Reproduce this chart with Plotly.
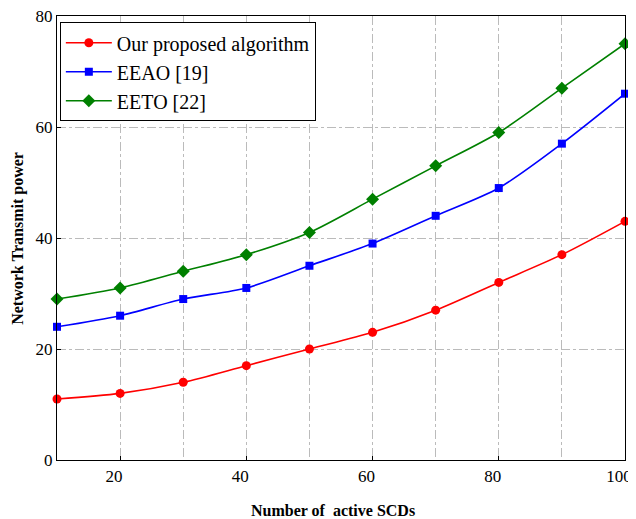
import plotly.graph_objects as go

x_vals = [10, 20, 30, 40, 50, 60, 70, 80, 90, 100]
ours = [11, 12, 14, 17, 20, 23, 27, 32, 37, 43]
eeao = [24, 26, 29, 31, 35, 39, 44, 49, 57, 66]
eeto = [29, 31, 34, 37, 41, 47, 53, 59, 67, 75]
names = ["Our proposed algorithm", "EEAO [19]", "EETO [22]"]
x_ticks = [20, 40, 60, 80, 100]
y_ticks = [0, 20, 40, 60, 80]
x_title = "Number of  active SCDs"
y_title = "Network Transmit power"

fig = go.Figure()
series = [
    (ours, names[0], "red", "circle", 9),
    (eeao, names[1], "blue", "square", 8),
    (eeto, names[2], "green", "diamond", 10),
]
for ys, nm, col, sym, sz in series:
    fig.add_trace(go.Scatter(
        x=x_vals, y=ys, name=nm, mode="lines+markers", cliponaxis=False,
        line=dict(color=col, width=1.6, shape="spline", smoothing=0.8),
        marker=dict(symbol=sym, color=col, size=sz),
    ))

FF = "Liberation Serif"
grid = dict(showgrid=True, gridcolor="#bbbbbb", griddash="dashdot", gridwidth=0.6)
fig.update_layout(
    width=628, height=511,
    margin=dict(l=49, r=11, t=8, b=59),
    plot_bgcolor="white", paper_bgcolor="white",
    font=dict(family=FF, size=17, color="black"),
    showlegend=True,
    legend=dict(
        x=0.005, y=0.986, xanchor="left", yanchor="top",
        bgcolor="white", bordercolor="black", borderwidth=1,
        font=dict(size=20, family=FF, color="black"), tracegroupgap=0,
        itemwidth=46,
    ),
    xaxis=dict(
        range=[10, 100], tickvals=x_ticks, ticktext=[str(v) for v in x_ticks],
        showline=True, linecolor="black", linewidth=1.2, mirror=True,
        ticks="inside", ticklen=4, tickcolor="black",
        minor=dict(dtick=10, tick0=10, **grid),
        zeroline=False, automargin=False, ticklabeloverflow="allow",
        ticklabelshift=-6,
        tickfont=dict(size=17, family=FF, color="black"),
        **grid,
    ),
    yaxis=dict(
        range=[0, 80], tickvals=y_ticks, ticktext=[str(v) for v in y_ticks],
        showline=True, linecolor="black", linewidth=1.2, mirror=True,
        ticks="inside", ticklen=4, tickcolor="black",
        zeroline=False, automargin=False, ticklabeloverflow="allow",
        tickfont=dict(size=17, family=FF, color="black"),
        **grid,
    ),
    annotations=[
        dict(text="<b>" + x_title + "</b>", xref="paper", yref="paper",
             x=0.486, y=-0.113, xanchor="center", yanchor="middle", showarrow=False,
             font=dict(size=16, family=FF, color="black")),
        dict(text="<b>" + y_title + "</b>", xref="paper", yref="paper",
             x=-0.069, y=0.5, xanchor="center", yanchor="middle", showarrow=False,
             textangle=-90, font=dict(size=16, family=FF, color="black")),
    ],
)
fig.write_html("out.html")
